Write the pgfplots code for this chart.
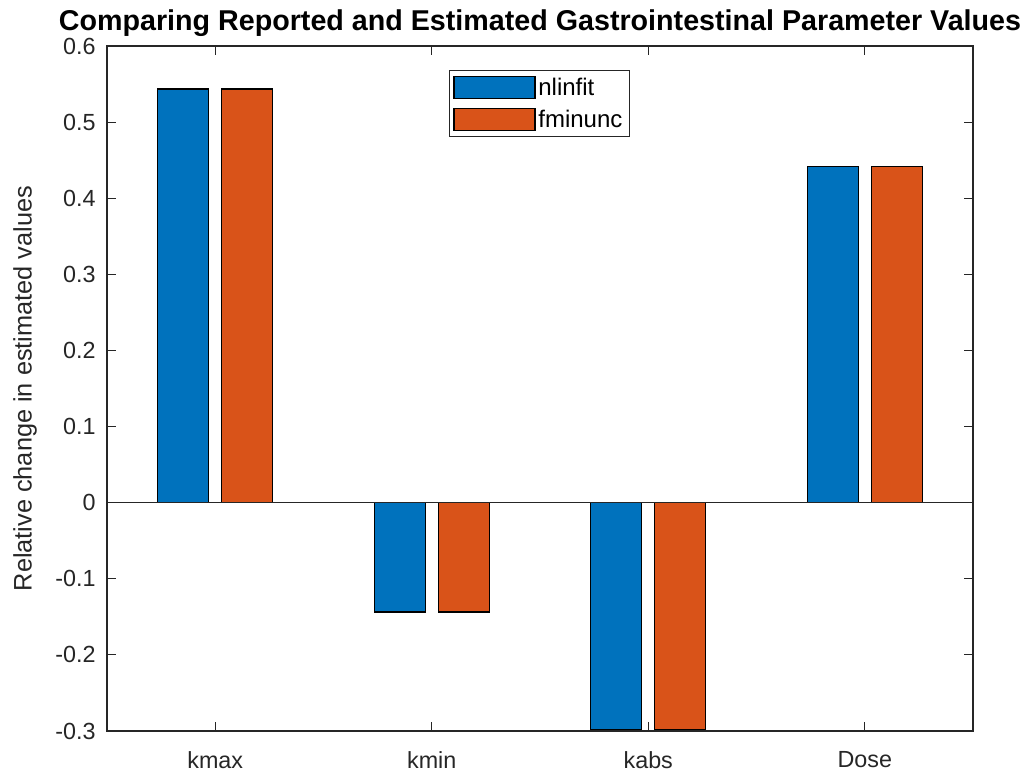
\documentclass[border=0pt]{standalone}
\usepackage{pgfplots}
\pgfplotsset{compat=1.18}
\usepackage{fontspec}
\setmainfont{Liberation Sans}

\definecolor{mblue}{rgb}{0,0.447,0.741}
\definecolor{morange}{rgb}{0.850,0.325,0.098}
\definecolor{mgray}{rgb}{0.15,0.15,0.15}

\begin{document}
\begin{tikzpicture}
% page = 1035x772 px, 1px = 0.75pt, axis box lower left at (107,731)
\path[use as bounding box] (-80.25pt,-30.75pt) rectangle (696pt,548.25pt);
\begin{axis}[
    at={(0,0)}, anchor=south west,
    scale only axis,
    width=649.5pt, height=513.75pt,
    ybar,
    bar width=38.25pt,
    xmin=0.5, xmax=4.5,
    ymin=-0.3, ymax=0.6,
    xtick={1,2,3,4},
    xticklabels={kmax,kmin,kabs,Dose},
    ytick={-0.3,-0.2,-0.1,0,0.1,0.2,0.3,0.4,0.5,0.6},
    yticklabels={-0.3,-0.2,-0.1,0,0.1,0.2,0.3,0.4,0.5,0.6},
    tick align=inside,
    xtick pos=both, ytick pos=both,
    major tick length=6.5pt,
    tick style={mgray, line width=0.9pt},
    axis line style={mgray, line width=1pt},
    ticklabel style={font=\fontsize{17.5}{20}\selectfont, text=mgray},
    yticklabel style={xshift=-5pt},
    xticklabel style={yshift=-12pt},
    ylabel={Relative change in estimated values},
    ylabel style={at={(axis description cs:-0.0947,0.5)}, anchor=center,
        rotate=0, font=\fontsize{19}{22}\selectfont, text=mgray},
    title={Comparing Reported and Estimated Gastrointestinal Parameter Values},
    title style={at={(axis description cs:0.5,1.022)}, anchor=center,
        font=\bfseries\fontsize{21.5}{26}\selectfont},
    legend image code/.code={\draw[#1] (0pt,-8.25pt) rectangle (60.75pt,8.25pt);},
    legend cell align=left,
    legend style={at={(axis description cs:0.499,0.965)}, anchor=north,
        draw=mgray, line width=0.8pt, font=\fontsize{18}{21}\selectfont,
        inner xsep=3pt, inner ysep=4pt, row sep=6.5pt,
        nodes={inner ysep=1pt, inner xsep=2pt},
        /tikz/every even column/.append style={column sep=1pt}},
    clip=false,
]
\addplot[fill=mblue, draw=black, line width=1.1pt, bar shift=-24pt]
    coordinates {(1,0.5436) (2,-0.1436) (3,-0.2983) (4,0.4415)};
\addlegendentry{nlinfit}
\addplot[fill=morange, draw=black, line width=1.1pt, bar shift=24pt]
    coordinates {(1,0.5436) (2,-0.1436) (3,-0.2983) (4,0.4415)};
\addlegendentry{fminunc}
\draw[mgray, line width=1pt] (axis cs:0.5,0) -- (axis cs:4.5,0);
\end{axis}
\end{tikzpicture}
\end{document}
